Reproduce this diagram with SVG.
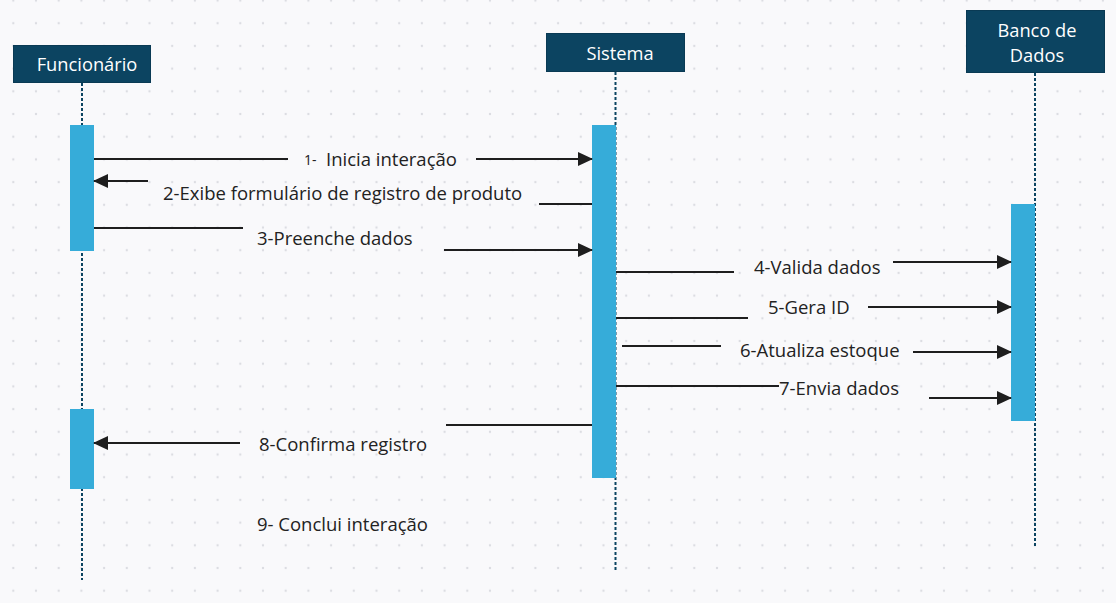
<svg xmlns="http://www.w3.org/2000/svg" width="1116" height="603" viewBox="0 0 1116 603">
<defs>
<pattern id="dots" x="13.3" y="0.5" width="22.7" height="22.7" patternUnits="userSpaceOnUse">
<circle cx="0" cy="0" r="1.2" fill="#dcdde2"/>
<circle cx="22.7" cy="0" r="1.2" fill="#dcdde2"/>
<circle cx="0" cy="22.7" r="1.2" fill="#dcdde2"/>
<circle cx="22.7" cy="22.7" r="1.2" fill="#dcdde2"/>
</pattern>
<marker id="ah" viewBox="0 0 15 14" refX="14" refY="7" markerWidth="15" markerHeight="14" markerUnits="userSpaceOnUse" orient="auto">
<path d="M0,0 L15,7 L0,14 Z" fill="#1e1e1e"/>
</marker>
<style>
.hdr{fill:#0c4461;stroke:#0a3a54;stroke-width:1}
.ht{font-family:"Open Sans","Noto Sans",sans-serif;font-size:18.3px;fill:#ffffff;text-anchor:middle}
.life{stroke:#0c4461;stroke-width:2;stroke-dasharray:3 2;fill:none}
.act{fill:#36acd9}
.ln{stroke:#1e1e1e;stroke-width:2;fill:none}
.arr{stroke:#1e1e1e;stroke-width:2;fill:none;marker-end:url(#ah)}
.lb{font-family:"Open Sans","Noto Sans",sans-serif;font-size:18.5px;fill:#222222}
</style>
</defs>
<rect width="1116" height="603" fill="#f9f9fb"/>
<rect width="1116" height="603" fill="url(#dots)"/>

<g id="lifeline-funcionario">
<line class="life" x1="82" y1="83" x2="82" y2="580"/>
<rect class="act" x="70" y="125" width="24" height="126"/>
<rect class="act" x="70" y="409" width="24" height="80"/>
<rect class="hdr" x="13.5" y="45.5" width="137" height="37"/>
<text class="ht" x="87" y="71">Funcionário</text>
</g>

<g id="lifeline-sistema">
<line class="life" x1="615.5" y1="72" x2="615.5" y2="570"/>
<rect class="act" x="592" y="125" width="24" height="353"/>
<rect class="hdr" x="546.5" y="33.5" width="138" height="38"/>
<text class="ht" x="620" y="59.5">Sistema</text>
</g>

<g id="lifeline-banco">
<line class="life" x1="1035" y1="73" x2="1035" y2="547"/>
<rect class="act" x="1011" y="204" width="24" height="217"/>
<rect class="hdr" x="966.5" y="10.5" width="138" height="62"/>
<text class="ht" x="1037" y="37">Banco de</text>
<text class="ht" x="1037" y="62">Dados</text>
</g>

<g id="connectors">
<line class="ln" x1="94" y1="159" x2="288" y2="159"/>
<line class="arr" x1="476" y1="159" x2="592" y2="159"/>

<line class="ln" x1="539" y1="204" x2="592" y2="204"/>
<line class="arr" x1="148" y1="181" x2="94" y2="181"/>

<line class="ln" x1="94" y1="228" x2="243" y2="228"/>
<line class="arr" x1="444" y1="250" x2="592" y2="250"/>

<line class="ln" x1="616" y1="272" x2="734" y2="272"/>
<line class="arr" x1="893" y1="262" x2="1011" y2="262"/>

<line class="ln" x1="616" y1="318" x2="748" y2="318"/>
<line class="arr" x1="868" y1="307" x2="1011" y2="307"/>

<line class="ln" x1="622" y1="346" x2="721" y2="346"/>
<line class="arr" x1="913" y1="352" x2="1011" y2="352"/>

<line class="ln" x1="616" y1="386" x2="779" y2="386"/>
<line class="arr" x1="929" y1="398" x2="1011" y2="398"/>

<line class="ln" x1="446" y1="425" x2="592" y2="425"/>
<line class="arr" x1="240" y1="443" x2="94" y2="443"/>
</g>

<g id="labels">
<text class="lb" x="304" y="165" style="font-size:14px">1-</text>
<text class="lb" x="326" y="166">Inicia interação</text>
<text class="lb" x="163" y="200">2-Exibe formulário  de registro de produto</text>
<text class="lb" x="257" y="245">3-Preenche dados</text>
<text class="lb" x="754" y="274">4-Valida dados</text>
<text class="lb" x="768" y="314">5-Gera ID</text>
<text class="lb" x="740" y="357">6-Atualiza estoque</text>
<text class="lb" x="779" y="395">7-Envia dados</text>
<text class="lb" x="259" y="451">8-Confirma registro</text>
<text class="lb" x="257" y="531">9- Conclui interação</text>
</g>
</svg>
